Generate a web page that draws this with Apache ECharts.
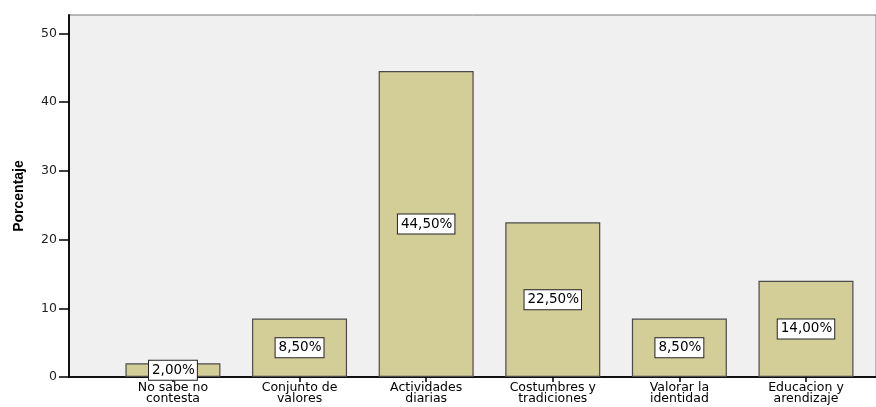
<!DOCTYPE html>
<html>
<head>
<meta charset="utf-8">
<script src="https://cdn.jsdelivr.net/npm/echarts@6/dist/echarts.min.js"></script>
<style>html,body{margin:0;padding:0;background:#fff;}#c{width:876px;height:407px;}</style>
</head>
<body>
<div id="c"></div>
<script>
const categories = ["No sabe no\ncontesta", "Conjunto de\nvalores", "Actividades\ndiarias", "Costumbres y\ntradiciones", "Valorar la\nidentidad", "Educacion y\narendizaje"];
const values = [2.0, 8.5, 44.5, 22.5, 8.5, 14.0];
const yTicks = [0, 10, 20, 30, 40, 50];
const yTitle = "Porcentaje";

const chart = echarts.init(document.getElementById('c'));
const idx = categories.map((_, i) => i);
chart.setOption({
  animation: false,
  grid: { left: 69, right: 0, top: 15, bottom: 30, show: true, backgroundColor: '#F0F0F0', borderColor: '#777', borderWidth: 1 },
  xAxis: {
    type: 'value', min: -0.821, max: 5.553,
    axisLine: { show: true, onZero: false, lineStyle: { color: '#111', width: 2 } },
    splitLine: { show: false },
    axisTick: { show: true, inside: false, length: 5, lineStyle: { color: '#000', width: 1.5 }, customValues: idx },
    axisLabel: {
      customValues: idx, margin: 5,
      formatter: v => categories[Math.round(v)] || '',
      color: '#000', fontFamily: 'DejaVu Sans', fontSize: 12.5, lineHeight: 11
    }
  },
  yAxis: {
    type: 'value', min: 0, max: 52.66,
    name: yTitle, nameLocation: 'middle', nameGap: 43, nameRotate: 90,
    nameTextStyle: { fontFamily: 'Liberation Sans Narrow, Arial Narrow, Liberation Sans', fontWeight: 'bold', fontSize: 14, color: '#000' },
    axisLine: { show: true, onZero: false, lineStyle: { color: '#111', width: 2 } },
    splitLine: { show: false },
    axisTick: { show: true, length: 10, lineStyle: { color: '#000', width: 1.5 }, customValues: yTicks },
    axisLabel: { customValues: yTicks, margin: 12, color: '#222', fontFamily: 'DejaVu Sans', fontSize: 12.5 }
  },
  series: [{
    type: 'bar',
    data: values.map((v, i) => [i, v]),
    barWidth: 95,
    itemStyle: { color: '#D3CE97', borderColor: '#4a4a4a', borderWidth: 1.2 },
    label: {
      show: true, position: 'inside',
      formatter: p => p.value[1].toFixed(2).replace('.', ',') + '%',
      backgroundColor: '#fff', borderColor: '#222', borderWidth: 1, padding: [3, 2, 2, 3],
      color: '#000', fontFamily: 'DejaVu Sans', fontSize: 13.5
    }
  }]
});
</script>
</body>
</html>
